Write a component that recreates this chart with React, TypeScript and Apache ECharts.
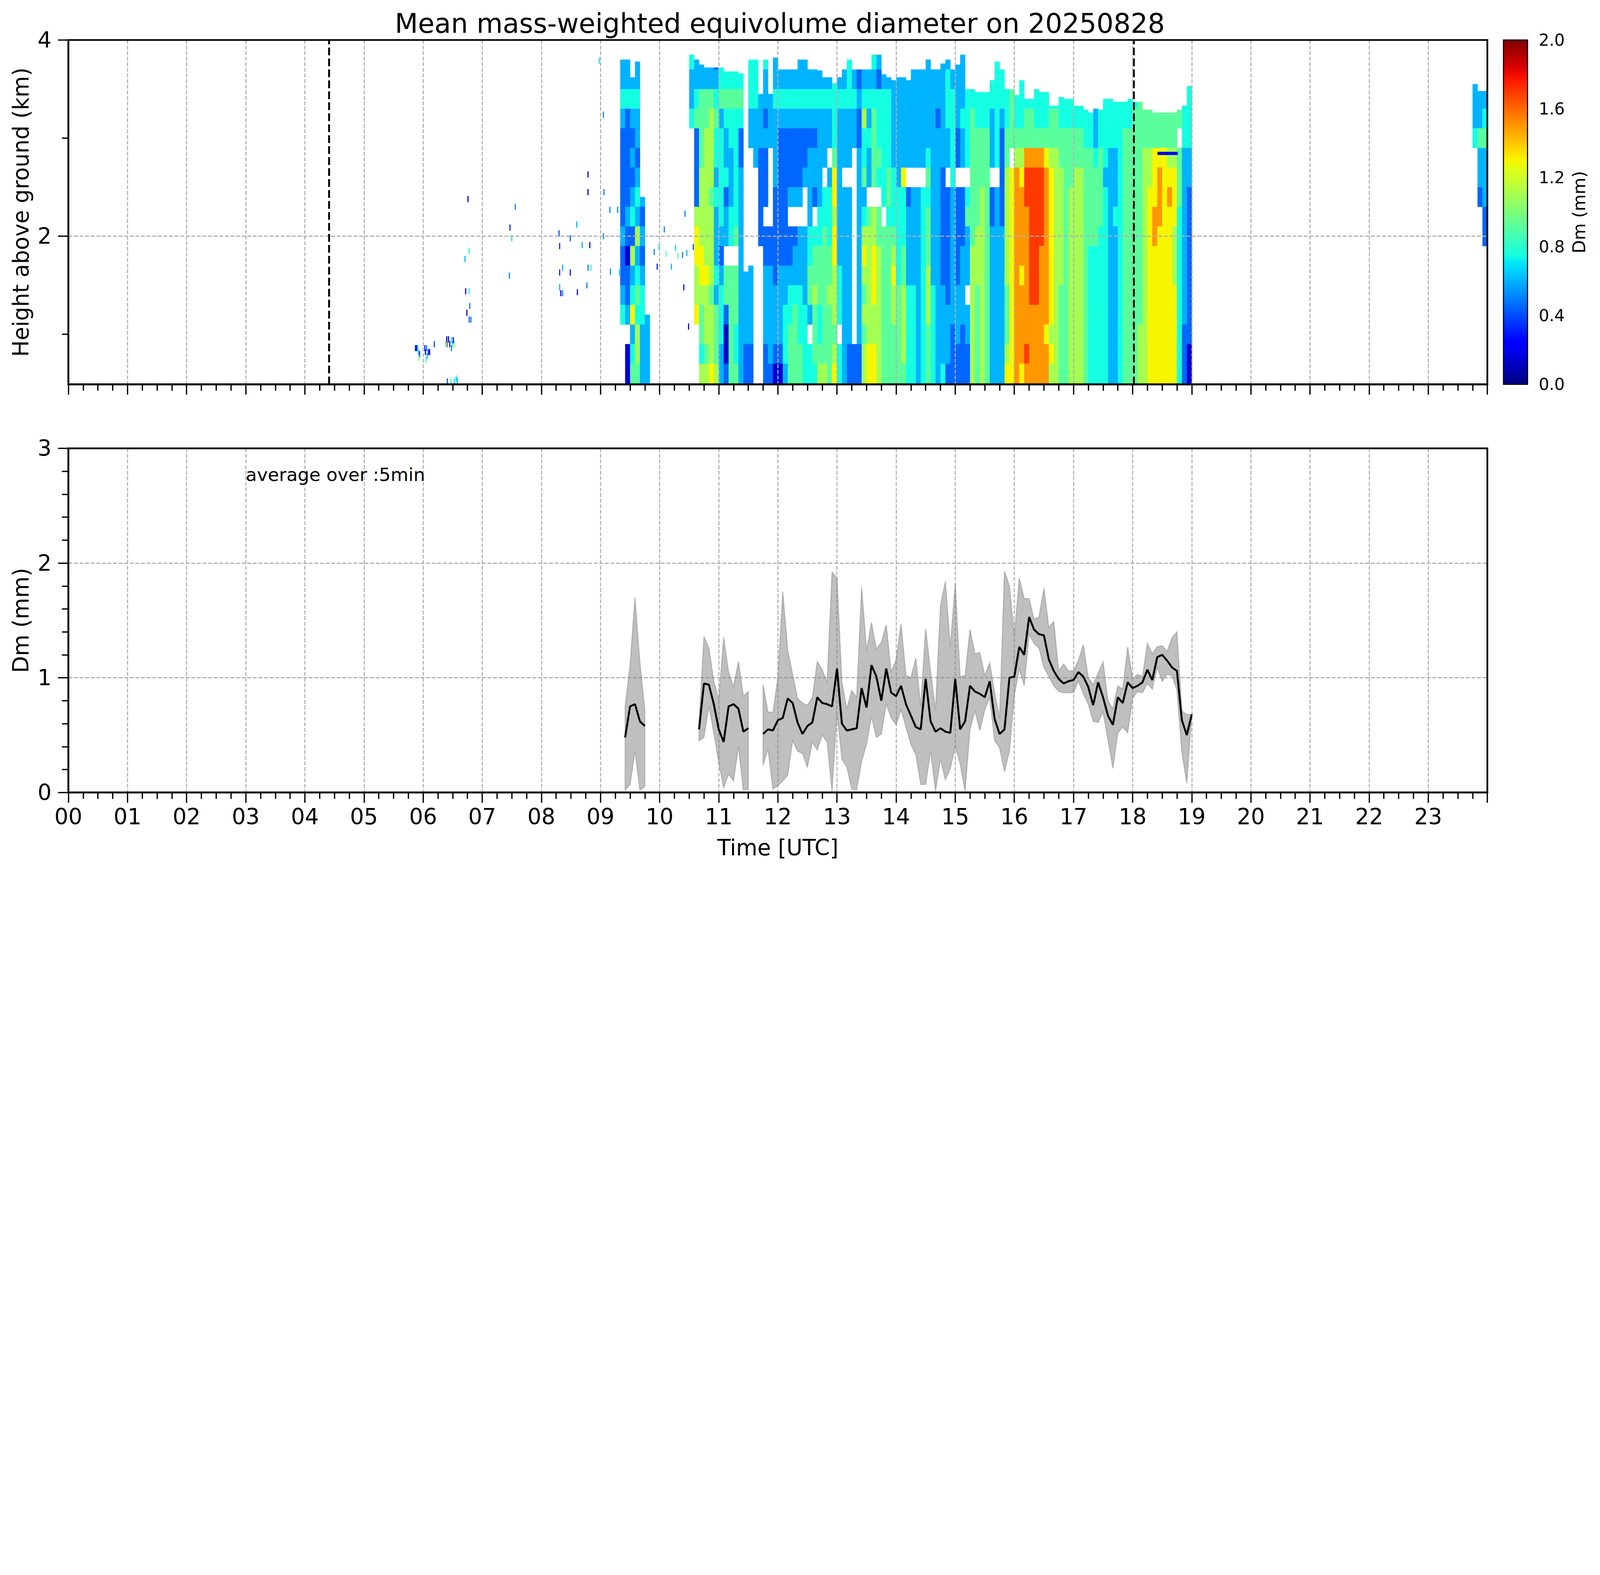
import React, { useEffect, useRef } from "react";
import * as echarts from "echarts";

const FONT = "DejaVu Sans";
const REF_W = 7442;
const REF_H = 4031;

// ---- top panel: Dm curtain, 5-minute columns ----
// each string goes from the top row (3.7-3.9 km) down to the lowest row (0.49-0.7 km)
// character = Dm class (see codeValues), "." = no echo
const rowEdges = [3.9, 3.7, 3.5, 3.3, 3.1, 2.9, 2.7, 2.5, 2.3, 2.1, 1.9, 1.7, 1.5, 1.3, 1.1, 0.9, 0.7, 0.49];
const codeValues = [0.15, 0.45, 0.6, 0.75, 0.92, 1.1, 1.3, 1.5, 1.7, 1.9];
const binHours = 5 / 60;

const mainStart = 9.25; // 09:15 UTC
const mainColumns = [
  ".................", "22321111121123...", "22311111210112.00", ".2321212315236234",
  "22322123252343554", ".......2121233222", ".............2222", ".................",
  ".................", ".................", ".................", ".................",
  ".................", ".................", ".................", "3223.............",
  "22341111566556...", "22444455556654435", "22445555555655545", "22455554555545556",
  "12343323222324445", "33423333321233322", "3343223122.441001", "3343322233.444444",
  "3343333334.444334", "33431122222222222", "...........222211", "33322......222211",
  "333222...........", "..22211111.......", "32212111.11222211", "..222....11222221",
  "22322221111122210", ".2321111111222210", ".2321111111223332", ".2321112.11233444",
  ".2321112.12234444", "22321112.22233344", "2232112..22223333", ".2321222233442.33",
  ".2321221.34454443", ".2322222334443345", ".23222.3344444445", ".2322.23334454444",
  ".3333466566555456", ".2322222222333.33", ".23222.2222222222", "333222.2222222211",
  ".2322..........11", ".1211222222222211", ".2353342356545455", ".232322.455555566",
  "3234444.556665566", "2133343.445555555", ".2333333.44444444", ".2333344344444444",
  ".2222233345655444", ".2222223333344444", ".2222263334455554", ".22222.1222233333",
  ".22222.2222233333", ".22222.2222222222", ".22222.3333333333", "22222343444555444",
  ".2222222222233333", ".2212222222222222", "22222211111122223", "233322.1111112221",
  ".2333332222222111", "222211.1111122211", "222322.1112222111", "..3333.34222.2211",
  "..344444445555555", "..334444455544444", "..334445555555555", "..334444444444444",
  ".33222.1122222222", "333333.2222222222", ".3321111122222222", "..334455555544456",
  "..444.66666666666", "..334577777777777", ".3334567777677776", "..344788777777787",
  "..344788888887777", "..334788888887777", "..334788887777777", "..334677777777677",
  "..344566666666565", "..344555555555555", "..334455555544444", "..334444444444444",
  "..334445555555555", "..334455555555555", "..334455555555555", "...33444444444444",
  "...33444443333333", "...22344443333333", "...33444433333333", "..333323333333333",
  "..333222222222222", "..333222322222222", "..333333333333333", "..334444444444444",
  "..334444444444444", "..344444444444444", "..444444444444555", "...44555555555555",
  "...44556666666666", "...44666776666666", "...44677766666666", "...44666666666666",
  "...44567666666666", "...44566655566666", "...4.444333333333", "..333222222222111",
  ".3333221111111100",
];
// echo top (km) of each column
const mainTops = [
  3.8, 3.8, 3.8, 3.62, 3.78, 2.4, 1.2, 3.8, 3.8, 3.8, 3.8, 3.8, 3.8, 3.8, 3.8, 3.85,
  3.8, 3.75, 3.72, 3.72, 3.72, 3.72, 3.68, 3.68, 3.68, 3.66, 1.64, 3.8, 3.8, 3.45, 3.8, 3.45,
  3.82, 3.72, 3.7, 3.7, 3.73, 3.8, 3.8, 3.73, 3.73, 3.69, 3.62, 3.62, 3.56, 3.62, 3.73, 3.8,
  3.73, 3.72, 3.72, 3.72, 3.85, 3.85, 3.65, 3.62, 3.59, 3.62, 3.62, 3.59, 3.72, 3.7, 3.7, 3.8,
  3.73, 3.7, 3.76, 3.8, 3.73, 3.75, 3.85, 3.5, 3.5, 3.47, 3.47, 3.47, 3.59, 3.78, 3.72, 3.5,
  3.5, 3.44, 3.59, 3.4, 3.4, 3.5, 3.47, 3.47, 3.33, 3.33, 3.42, 3.4, 3.4, 3.33, 3.33, 3.29,
  3.26, 3.33, 3.29, 3.4, 3.4, 3.37, 3.37, 3.37, 3.4, 3.37, 3.37, 3.29, 3.29, 3.26, 3.26, 3.26,
  3.26, 3.26, 3.29, 3.33, 3.53,
];

const lateStart = 23.75; // 23:45 UTC
const lateColumns = [".2223............", "..224221.........", "..23422211......."];
const lateTops = [3.55, 3.48, 3.48];

// thin layers: [start hour, end hour, km, Dm]
const thinLayers = [[18.42, 18.76, 2.845, 0.2]];

// isolated echoes: [hour, km, Dm]
const specks = [
  [5.86, 0.86, 0.3], [5.88, 0.86, 0.1], [5.9, 0.86, 0.7], [5.91, 0.82, 0.7], [5.93, 0.8, 0.3],
  [5.92, 0.76, 1.0], [6.02, 0.86, 0.3], [6.03, 0.82, 0.1], [6.05, 0.86, 0.5], [6.06, 0.78, 0.6],
  [6.08, 0.82, 0.3], [6.1, 0.82, 0.2], [6.04, 0.74, 0.9], [6.18, 0.9, 0.4], [6.38, 0.9, 0.7],
  [6.39, 0.95, 0.2], [6.4, 0.9, 1.6], [6.42, 0.95, 0.1], [6.44, 0.9, 0.3], [6.47, 0.94, 0.7],
  [6.49, 0.9, 0.9], [6.5, 0.94, 0.2], [6.52, 0.9, 1.0], [6.47, 0.86, 0.5], [6.4, 0.52, 0.4],
  [6.46, 0.52, 0.8], [6.52, 0.52, 0.7], [6.55, 0.55, 0.7], [6.57, 0.53, 0.6], [6.75, 2.38, 0.1],
  [6.77, 1.85, 0.8], [6.7, 1.77, 0.6], [6.71, 1.44, 0.2], [6.77, 1.44, 0.8], [6.78, 1.29, 0.5],
  [6.73, 1.22, 0.1], [6.77, 1.15, 0.4], [6.8, 1.15, 0.5], [7.55, 2.3, 0.5], [7.46, 2.09, 0.3],
  [7.49, 1.98, 0.7], [7.45, 1.6, 0.5], [8.29, 2.03, 0.4], [8.3, 1.9, 0.3], [8.48, 1.98, 0.4],
  [8.59, 2.12, 0.6], [8.68, 1.91, 0.6], [8.81, 1.91, 0.1], [8.78, 2.63, 0.1], [8.78, 2.45, 0.1],
  [8.3, 1.63, 0.3], [8.48, 1.63, 0.2], [8.35, 1.68, 0.6], [8.78, 1.68, 0.5], [8.83, 1.68, 0.8],
  [8.3, 1.48, 0.6], [8.32, 1.42, 0.1], [8.35, 1.42, 0.5], [8.6, 1.43, 0.2], [8.76, 1.5, 0.5],
  [8.97, 3.79, 0.7], [9.04, 3.24, 0.5], [9.05, 2.45, 0.5], [9.04, 2.0, 0.5], [9.15, 2.27, 0.5],
  [9.28, 2.27, 0.5], [9.16, 1.64, 0.5], [9.31, 1.63, 0.7], [9.9, 1.84, 0.5], [9.95, 1.69, 0.3],
  [9.98, 1.89, 0.7], [10.07, 2.07, 0.5], [10.1, 1.82, 0.9], [10.19, 1.69, 0.6], [10.26, 1.88, 0.7],
  [10.3, 1.8, 0.9], [10.38, 1.81, 0.5], [10.4, 1.48, 0.3], [10.42, 2.23, 0.5], [10.45, 1.83, 0.6],
  [10.48, 1.08, 0.1], [10.56, 1.89, 0.4],
];

// sunrise / sunset markers
const dayMarks = [4.41, 18.02];

// ---- bottom panel: 5-min averages from 09:25 UTC ----
const lineStart = 9 + 25 / 60;
const dmMean = [
  0.48, 0.75, 0.77, 0.62, 0.58,
  null, null, null, null, null, null, null, null, null, null,
  0.55, 0.95, 0.94, 0.77, 0.55, 0.44, 0.75, 0.77, 0.73, 0.53, 0.56,
  null, null,
  0.51, 0.55, 0.54,
  0.63, 0.65, 0.82, 0.78, 0.61, 0.51, 0.58, 0.61, 0.83, 0.78, 0.77, 0.75,
  1.08, 0.6, 0.54, 0.55, 0.56, 0.91, 0.74, 1.11, 1.01, 0.8, 1.08, 0.87,
  0.84, 0.93, 0.77, 0.67, 0.57, 0.55, 0.99, 0.62, 0.53, 0.56, 0.53, 0.52,
  0.99, 0.55, 0.62, 0.93, 0.88, 0.86, 0.83, 0.97, 0.64, 0.51, 0.55, 1.0,
  1.01, 1.27, 1.2, 1.53, 1.42, 1.38, 1.37, 1.16, 1.06, 0.99, 0.95, 0.97,
  0.98, 1.05, 1.01, 0.92, 0.76, 0.96, 0.83, 0.67, 0.59, 0.83, 0.78, 0.96,
  0.91, 0.93, 0.96, 1.07, 0.98, 1.18, 1.2, 1.15, 1.09, 1.06, 0.63, 0.5,
  0.68,
];
const dmUpper = [
  0.75, 1.11, 1.7, 1.13, 0.72,
  null, null, null, null, null, null, null, null, null, null,
  0.6, 1.36, 1.26, 0.97, 0.81, 1.35, 1.05, 0.92, 1.14, 0.84, 0.88,
  null, null,
  0.94, 0.7, 0.7,
  1.0, 1.75, 1.24, 1.03, 0.82, 0.78, 0.76, 0.83, 1.14, 1.07, 0.96, 1.92,
  1.87, 0.96, 0.73, 0.89, 0.83, 1.79, 1.24, 1.48, 1.25, 1.31, 1.46, 1.05,
  1.16, 1.47, 1.02, 1.0, 1.17, 0.75, 1.43, 1.05, 0.72, 1.63, 1.84, 1.27,
  1.82, 1.01, 1.02, 1.42, 1.21, 1.22, 1.02, 1.13, 0.87, 0.65, 1.93, 1.8,
  1.36, 1.87, 1.69, 1.69, 1.51, 1.53, 1.78, 1.44, 1.49, 1.06, 1.12, 1.06,
  1.06, 1.15, 1.29, 1.0, 0.94, 1.04, 1.14, 0.8, 0.73, 0.93, 0.9, 1.27,
  0.99, 1.03, 1.01, 1.3, 1.21, 1.27, 1.28, 1.23, 1.35, 1.4, 0.71, 0.68,
  0.68,
];
const dmLower = [
  0.02, 0.07, 0.36, 0.02, 0.05,
  null, null, null, null, null, null, null, null, null, null,
  0.45, 0.48, 0.75, 0.52, 0.26, 0.04, 0.16, 0.1, 0.4, 0.02, 0.03,
  null, null,
  0.24, 0.38, 0.03,
  0.06, 0.1, 0.15, 0.45, 0.36, 0.34, 0.22, 0.44, 0.37, 0.5, 0.44, 0.01,
  0.7, 0.29, 0.22, 0.03, 0.02, 0.27, 0.42, 0.66, 0.48, 0.51, 0.77, 0.65,
  0.59, 0.72, 0.57, 0.42, 0.33, 0.07, 0.07, 0.36, 0.01, 0.29, 0.11, 0.21,
  0.4, 0.25, 0.01, 0.55, 0.71, 0.54, 0.72, 0.83, 0.45, 0.39, 0.18, 0.36,
  0.85, 1.08, 0.93, 1.38, 1.3, 1.26, 1.09, 1.01, 0.93, 0.88, 0.87, 0.87,
  0.87, 0.97, 0.86, 0.77, 0.62, 0.61, 0.7, 0.46, 0.21, 0.52, 0.57, 0.52,
  0.82, 0.88, 0.87, 0.95, 0.9, 1.09, 0.97, 1.03, 1.02, 0.89, 0.35, 0.08,
  0.68,
];

// matplotlib "jet"
const jetR = [[0, 0], [0.35, 0], [0.66, 1], [0.89, 1], [1, 0.5]];
const jetG = [[0, 0], [0.125, 0], [0.375, 1], [0.64, 1], [0.91, 0], [1, 0]];
const jetB = [[0, 0.5], [0.11, 1], [0.34, 1], [0.65, 0], [1, 0]];
const lerpTable = (pts: number[][], x: number) => {
  for (let i = 1; i < pts.length; i++) {
    if (x <= pts[i][0]) {
      const [x0, y0] = pts[i - 1];
      const [x1, y1] = pts[i];
      return y0 + ((y1 - y0) * (x - x0)) / (x1 - x0);
    }
  }
  return pts[pts.length - 1][1];
};
const jet = (t: number) => {
  const v = Math.max(0, Math.min(1, t));
  const c = (p: number[][]) => Math.round(lerpTable(p, v) * 255);
  return `rgb(${c(jetR)},${c(jetG)},${c(jetB)})`;
};

const buildCells = (cols: string[], tops: number[], start: number) => {
  const cells: number[][] = [];
  cols.forEach((col, k) => {
    const t0 = start + k * binHours;
    for (let r = 0; r < rowEdges.length - 1; r++) {
      const ch = col[r];
      if (!ch || ch === ".") continue;
      const hi = Math.min(rowEdges[r], tops[k]);
      const lo = rowEdges[r + 1];
      if (hi <= lo) continue;
      cells.push([t0, lo, t0 + binHours, hi, codeValues[Number(ch)]]);
    }
  });
  return cells;
};

const hourLabel = (v: number) => (v >= 24 ? "" : String(Math.round(v)).padStart(2, "0"));

const App = () => {
  const ref = useRef<HTMLDivElement>(null);

  useEffect(() => {
    document.body.style.margin = "0";
    document.body.style.overflow = "hidden";
    if (!ref.current) return;
    const chart = echarts.init(ref.current, undefined, { renderer: "svg" });
    // layout is written in reference pixels and scaled to the page width
    const S = ref.current.clientWidth / REF_W;
    const px = (v: number) => v * S;

    const gridLine = { color: "#b0b0b0", width: px(5), type: [px(18), px(8)] };
    const tick = { color: "#000", width: px(6) };
    const label = (size: number) => ({ fontFamily: FONT, fontSize: px(size), color: "#000" });

    const cells = [
      ...buildCells(mainColumns, mainTops, mainStart),
      ...buildCells(lateColumns, lateTops, lateStart),
      ...thinLayers.map(([t0, t1, h, v]) => [t0, h - 0.015, t1, h + 0.015, v]),
      ...specks.map(([t, h, v]) => [t, h - 0.03, t + 0.015, h + 0.03, v]),
    ];

    const lineTimes = dmMean.map((_, i) => lineStart + i * binHours);
    const segments: number[][] = [];
    let s = -1;
    dmMean.forEach((v, i) => {
      if (v != null && s < 0) s = i;
      if ((v == null || i === dmMean.length - 1) && s >= 0) {
        segments.push([s, v == null ? i - 1 : i]);
        s = -1;
      }
    });

    const baseX = {
      type: "value",
      min: 0,
      max: 24,
      interval: 1,
      axisLine: { show: true, lineStyle: { color: "#000", width: px(8) } },
      axisTick: { show: true, length: px(48), lineStyle: tick },
      minorTick: { show: true, splitNumber: 4, length: px(30), lineStyle: tick },
      splitLine: { show: true, showMinLine: false, showMaxLine: false, lineStyle: gridLine },
    };

    const jetStops = Array.from({ length: 41 }, (_, i) => ({ offset: i / 40, color: jet(1 - i / 40) }));

    chart.setOption({
      animation: false,
      backgroundColor: "#fff",
      title: {
        text: "Mean mass-weighted equivolume diameter on 20250828",
        left: px(3618),
        top: px(38),
        textAlign: "center",
        textStyle: { ...label(125), fontWeight: "normal" },
      },
      grid: [
        { left: px(318), top: px(186), width: px(6600), height: px(1601), show: true, borderColor: "#000", borderWidth: px(8), z: 12 },
        { left: px(318), top: px(2085), width: px(6600), height: px(1600), show: true, borderColor: "#000", borderWidth: px(8), z: 12 },
        { left: px(6993), top: px(186), width: px(112), height: px(1601), show: true, borderColor: "#000", borderWidth: px(5), z: 12 },
      ],
      xAxis: [
        { ...baseX, gridIndex: 0, z: 10, axisLabel: { show: false } },
        {
          ...baseX,
          gridIndex: 1,
          name: "Time [UTC]",
          nameLocation: "middle",
          nameGap: px(205),
          nameTextStyle: label(102),
          axisLabel: { ...label(102), margin: px(62), formatter: hourLabel },
        },
        { type: "value", gridIndex: 2, min: 0, max: 1, show: false },
      ],
      yAxis: [
        {
          type: "value",
          gridIndex: 0,
          min: 0.49,
          max: 4,
          z: 10,
          name: "Height above ground (km)",
          nameLocation: "middle",
          nameGap: px(170),
          nameTextStyle: label(102),
          axisLine: { show: true, lineStyle: { color: "#000", width: px(8) } },
          axisTick: { show: true, length: px(48), lineStyle: tick, customValues: [2, 4] },
          axisLabel: { ...label(102), margin: px(78), customValues: [2, 4] },
          splitLine: { show: false },
        },
        {
          type: "value",
          gridIndex: 0,
          min: 0.49,
          max: 4,
          z: 10,
          position: "left",
          axisLine: { show: false },
          axisTick: { show: true, length: px(30), lineStyle: tick, customValues: [1, 3] },
          axisLabel: { show: false },
          splitLine: { show: false },
        },
        {
          type: "value",
          gridIndex: 1,
          min: 0,
          max: 3,
          interval: 1,
          name: "Dm (mm)",
          nameLocation: "middle",
          nameGap: px(170),
          nameTextStyle: label(102),
          axisLine: { show: true, lineStyle: { color: "#000", width: px(8) } },
          axisTick: { show: true, length: px(48), lineStyle: tick },
          minorTick: { show: true, splitNumber: 5, length: px(30), lineStyle: tick },
          axisLabel: { ...label(102), margin: px(78) },
          splitLine: { show: true, showMinLine: false, showMaxLine: false, lineStyle: gridLine },
        },
        {
          type: "value",
          gridIndex: 2,
          min: 0,
          max: 2,
          interval: 0.4,
          position: "right",
          name: "Dm (mm)",
          nameLocation: "middle",
          nameRotate: 90,
          nameGap: px(200),
          nameTextStyle: label(80),
          axisLine: { show: true, lineStyle: { color: "#000", width: px(5) } },
          axisTick: { show: true, length: px(21), lineStyle: { color: "#000", width: px(5) } },
          axisLabel: { ...label(76), margin: px(52), formatter: (v: number) => v.toFixed(1) },
          splitLine: { show: false },
        },
      ],
      series: [
        {
          type: "custom",
          xAxisIndex: 0,
          yAxisIndex: 0,
          clip: true,
          silent: true,
          encode: { x: [0, 2], y: [1, 3] },
          data: cells,
          renderItem: (_: any, api: any) => {
            const a = api.coord([api.value(0), api.value(3)]);
            const b = api.coord([api.value(2), api.value(1)]);
            return {
              type: "rect",
              shape: { x: a[0], y: a[1], width: b[0] - a[0] + 0.6, height: b[1] - a[1] + 0.6 },
              style: { fill: jet(api.value(4) / 2) },
            };
          },
        },
        {
          type: "line",
          xAxisIndex: 0,
          yAxisIndex: 0,
          data: [],
          symbol: "none",
          markLine: {
            silent: true,
            symbol: ["none", "none"],
            label: { show: false },
            data: [
              { yAxis: 2, lineStyle: gridLine },
              ...dayMarks.map((x) => ({ xAxis: x, lineStyle: { color: "#000", width: px(9), type: [px(36), px(15)] } })),
            ],
          },
        },
        {
          type: "custom",
          xAxisIndex: 1,
          yAxisIndex: 2,
          silent: true,
          z: 3,
          encode: { x: 0, y: 1 },
          data: segments.map(([a, b]) => [lineTimes[a], 0, a, b]),
          renderItem: (_: any, api: any) => {
            const a = api.value(2);
            const b = api.value(3);
            const pts: number[][] = [];
            for (let i = a; i <= b; i++) pts.push(api.coord([lineTimes[i], dmUpper[i]]));
            for (let i = b; i >= a; i--) pts.push(api.coord([lineTimes[i], dmLower[i]]));
            return {
              type: "polygon",
              shape: { points: pts },
              style: { fill: "rgba(128,128,128,0.5)", stroke: "rgba(128,128,128,0.45)", lineWidth: px(5) },
            };
          },
        },
        {
          type: "line",
          xAxisIndex: 1,
          yAxisIndex: 2,
          z: 4,
          symbol: "none",
          connectNulls: false,
          lineStyle: { color: "#000", width: px(9) },
          data: dmMean.map((v, i) => [lineTimes[i], v]),
        },
        {
          type: "custom",
          xAxisIndex: 1,
          yAxisIndex: 2,
          silent: true,
          z: 5,
          data: [[3, 2.69]],
          renderItem: (_: any, api: any) => {
            const p = api.coord([api.value(0), api.value(1)]);
            return {
              type: "text",
              x: p[0],
              y: p[1],
              style: {
                text: "average over :5min",
                fontFamily: FONT,
                fontSize: px(85),
                fill: "#000",
                align: "left",
                verticalAlign: "bottom",
              },
            };
          },
        },
        {
          type: "custom",
          xAxisIndex: 2,
          yAxisIndex: 3,
          silent: true,
          data: [[0, 0]],
          renderItem: (_: any, api: any) => {
            const a = api.coord([0, 2]);
            const b = api.coord([1, 0]);
            return {
              type: "rect",
              shape: { x: a[0], y: a[1], width: b[0] - a[0], height: b[1] - a[1] },
              style: { fill: new echarts.graphic.LinearGradient(0, 0, 0, 1, jetStops) },
            };
          },
        },
      ],
    } as any);

    return () => {
      chart.dispose();
    };
  }, []);

  return <div ref={ref} style={{ width: "100vw", height: `${(REF_H / REF_W) * 100}vw` }} />;
};

export default App;
